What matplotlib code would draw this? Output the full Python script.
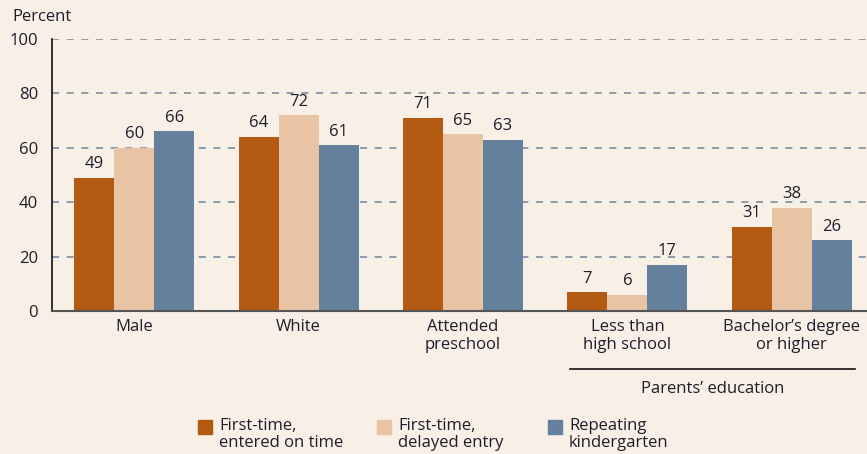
import matplotlib.pyplot as plt
from matplotlib.patches import Rectangle
import numpy as np

categories = ['Male', 'White', 'Attended\npreschool', 'Less than\nhigh school', 'Bachelor\u2019s degree\nor higher']
on_time = [49, 64, 71, 7, 31]
delayed = [60, 72, 65, 6, 38]
repeating = [66, 61, 63, 17, 26]
series_names = ['First-time,\nentered on time', 'First-time,\ndelayed entry', 'Repeating\nkindergarten']

colors = ['#B25A12', '#E8C4A4', '#63809C']
bg = '#F8EFE6'
txt = '#1E1E2A'
fs = 12

plt.rcParams['font.family'] = ['Open Sans', 'DejaVu Sans']

fig = plt.figure(figsize=(8.67, 4.54), dpi=100, facecolor=bg)
W, H = 867, 454
ax = fig.add_axes([52 / W, (H - 311) / H, (874 - 52) / W, (311 - 39) / H])
ax.set_facecolor(bg)

x = np.arange(len(categories))
w = 0.243
for i, (vals, c) in enumerate(zip([on_time, delayed, repeating], colors)):
    pos = x + (i - 1) * w
    ax.bar(pos, vals, width=w, color=c, zorder=3)
    for p, v in zip(pos, vals):
        ax.text(p, v + 2.0, str(v), ha='center', va='bottom', fontsize=fs, color=txt)

ax.set_xlim(-0.5, 4.5)
ax.set_ylim(0, 100)
ax.set_yticks(range(0, 101, 20))
ax.yaxis.grid(True, linestyle=(0, (4.6, 5.0)), color='#6F8499', lw=1.1, zorder=0)
ax.set_xticks(x)
ax.set_xticklabels(categories, fontsize=fs, color=txt, linespacing=1.15)
ax.tick_params(axis='both', length=0, labelsize=fs, colors=txt)
ax.tick_params(axis='x', pad=6)
ax.tick_params(axis='y', pad=10)
for s in ['top', 'right']:
    ax.spines[s].set_visible(False)
ax.spines['left'].set_color('#111111')
ax.spines['left'].set_linewidth(1.2)
ax.spines['bottom'].set_color('#555555')
ax.spines['bottom'].set_linewidth(1.5)
ax.spines['bottom'].set_zorder(4)

fig.text(12 / W, 1 - 17 / H, 'Percent', fontsize=fs, color=txt, va='center', ha='left')

# parents' education bracket
fig.add_artist(plt.Line2D([570 / W, 855 / W], [1 - 369 / H, 1 - 369 / H], color='#111111', lw=1.2))
fig.text(713 / W, 1 - 389 / H, 'Parents\u2019 education', fontsize=fs, color=txt, ha='center', va='center')

# legend
for sx, name, c in zip([198, 377, 548], series_names, colors):
    fig.add_artist(Rectangle((sx / W, 1 - 434 / H), 14 / W, 14 / H, color=c, transform=fig.transFigure))
    fig.text((sx + 21) / W, 1 - 418 / H, name, fontsize=fs, color=txt, ha='left', va='top', linespacing=1.1)

fig.savefig('out.png', dpi=100, facecolor=bg)
